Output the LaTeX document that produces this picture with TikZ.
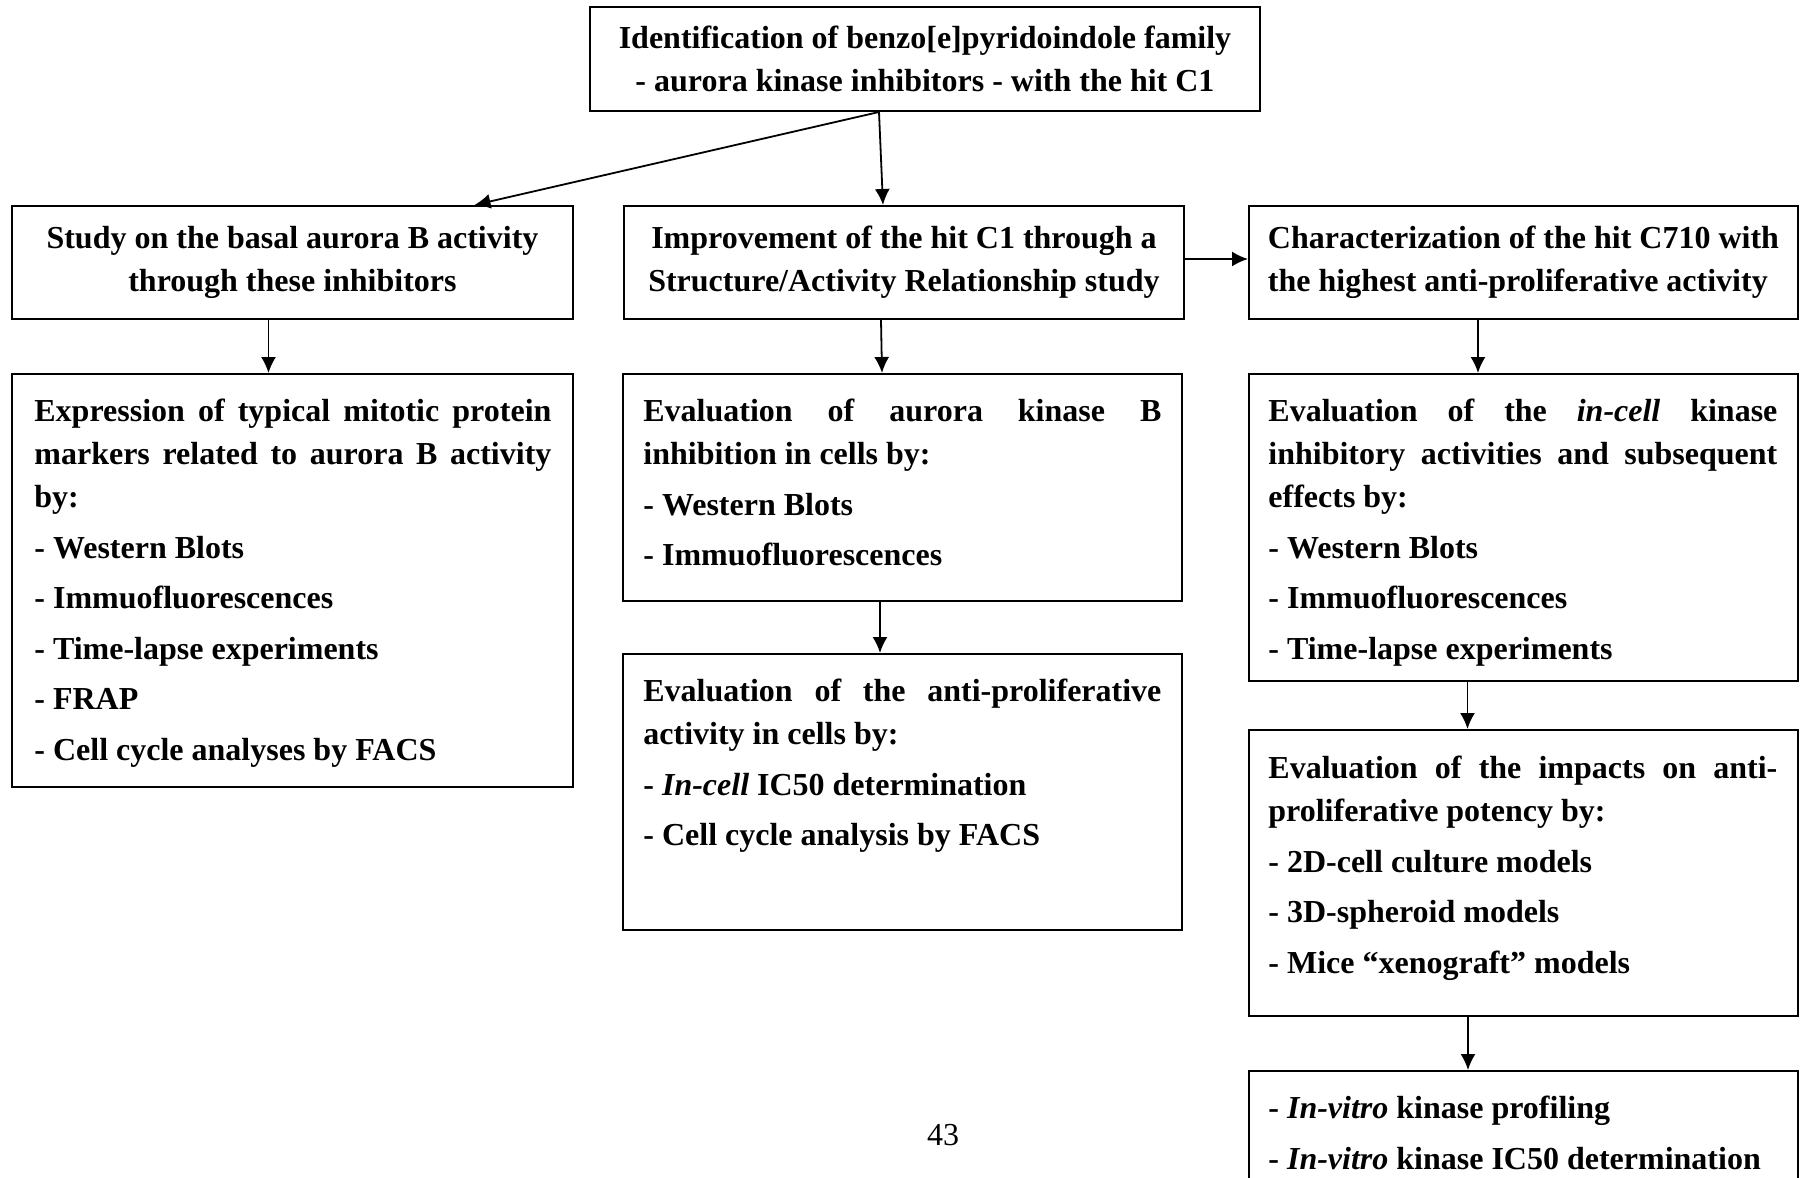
\documentclass[tikz,border=0pt]{standalone}
\usepackage{fontspec}
\setmainfont{Liberation Serif}
\usetikzlibrary{arrows.meta}

\begin{document}
\begin{tikzpicture}[x=1pt,y=-1pt]

\tikzset{box/.style = {draw, line width=1pt, inner sep=0pt, anchor=north west, font=\fontsize{16}{21.5}\selectfont\bfseries}}
\tikzset{headbox/.style = {box, align=center}}
\tikzset{listtext/.style = {anchor=north west, inner sep=0pt, text width=#1, align=justify, font=\fontsize{16}{21.5}\selectfont\bfseries\setlength{\parskip}{3.75pt}\setlength{\parindent}{0pt}}, listtext/.default=258.5}
\tikzset{edge/.style = {->, > = {Latex[length=8pt,width=7.5pt]}, line width=0.9pt}}

\useasboundingbox (0,0) rectangle (900,589);

%head boxes
\node[headbox, minimum width=335, minimum height=52] (hit) at (294.5,3) {Identification of benzo[e]pyridoindole family\\- aurora kinase inhibitors - with the hit C1};
\node[headbox, minimum width=280.5, minimum height=56.5] (basal) at (5.5,102.5) {Study on the basal aurora B activity\\through these inhibitors};
\node[headbox, minimum width=280, minimum height=56.5] (sar) at (311.5,102.5) {Improvement of the hit C1 through a\\Structure/Activity Relationship study};
\node[box, align=left, minimum width=274.5, minimum height=56.5] (c710) at (624,102.5) {Characterization of the hit C710 with\\the highest anti-proliferative activity};

%list boxes
\node[box, minimum width=280.5, minimum height=206.5] (markers) at (5.5,186.5) {};
\node[box, minimum width=279.5, minimum height=113.5] (inhib) at (311,186.5) {};
\node[box, minimum width=279.5, minimum height=138] (prolif) at (311,326.5) {};
\node[box, minimum width=274.5, minimum height=153.5] (incell) at (624,186.5) {};
\node[box, minimum width=274.5, minimum height=143] (impact) at (624,364.5) {};
\node[box, minimum width=274.5, minimum height=80] (vitro) at (624,535) {};

%texts
\node[listtext] (markerstext) at (17,195.5) {\strut Expression of typical mitotic protein\linebreak markers related to aurora B activity\linebreak by:\par
- Western Blots\par
- Immuofluorescences\par
- Time-lapse experiments\par
- FRAP\par
- Cell cycle analyses by FACS};
\node[listtext=259] (inhibtext) at (321.5,195.5) {\strut Evaluation of aurora kinase B\linebreak inhibition in cells by:\par
- Western Blots\par
- Immuofluorescences};
\node[listtext=259] (proliftext) at (321.5,335.5) {\strut Evaluation of the anti-proliferative\linebreak activity in cells by:\par
- \textit{In-cell} IC50 determination\par
- Cell cycle analysis by FACS};
\node[listtext=254.5] (incelltext) at (634,195.5) {\strut Evaluation of the \textit{in-cell} kinase\linebreak inhibitory activities and subsequent\linebreak effects by:\par
- Western Blots\par
- Immuofluorescences\par
- Time-lapse experiments};
\node[listtext=254.5] (impacttext) at (634,374) {\strut Evaluation of the impacts on anti-\linebreak proliferative potency by:\par
- 2D-cell culture models\par
- 3D-spheroid models\par
- Mice “xenograft” models};
\node[listtext=254.5] (vitrotext) at (634,544) {\strut - \textit{In-vitro} kinase profiling\par
- \textit{In-vitro} kinase IC50 determination};

%page number
\node[font=\fontsize{16}{19}\selectfont] (page) at (471.5,567.5) {43};

%edges
\draw[edge] ([xshift=-23pt]hit.south) -- ([xshift=91pt]basal.north);
\draw[edge] ([xshift=-23pt]hit.south) -- ([xshift=-10.5pt]sar.north);
\draw[edge] ([yshift=1.75pt]sar.east) -- ([yshift=1.75pt]c710.west);
\draw[edge] ([xshift=-12pt]basal.south) -- ([xshift=-12pt]markers.north);
\draw[edge] ([xshift=-11.5pt]sar.south) -- ([xshift=-10.25pt]inhib.north);
\draw[edge] ([xshift=-11.25pt]inhib.south) -- ([xshift=-11.25pt]prolif.north);
\draw[edge] ([xshift=-22.75pt]c710.south) -- ([xshift=-22.75pt]incell.north);
\draw[edge] ([xshift=-28pt]incell.south) -- ([xshift=-28pt]impact.north);
\draw[edge] ([xshift=-27.75pt]impact.south) -- ([xshift=-27.75pt]vitro.north);

\end{tikzpicture}
\end{document}
